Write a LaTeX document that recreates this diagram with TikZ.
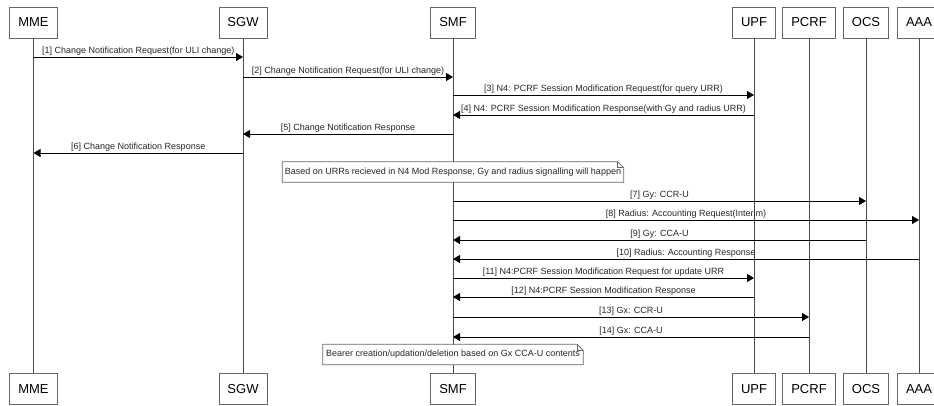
\documentclass[tikz,border=0pt]{standalone}
\usepackage{fontspec}
\setmainfont{Liberation Sans}
\usetikzlibrary{arrows.meta}
\begin{document}
\begin{tikzpicture}[x=1pt,y=-1pt,
  actor/.style={draw=black!60, line width=0.8pt, minimum height=31pt, inner xsep=8.5pt, inner ysep=0pt, font=\fontsize{13}{15}\selectfont, fill=white},
  life/.style={draw=black!70, line width=0.8pt},
  msg/.style={draw=black, line width=0.8pt, -{Triangle[length=7pt,width=8pt]}},
  lbl/.style={font=\fontsize{9}{10}\selectfont, text=black!85, inner sep=1pt, above},
  notebox/.style={fill=white, draw=none, minimum height=20pt, inner xsep=2pt, inner ysep=0pt, font=\fontsize{9}{10}\selectfont, text=black!85},
  noteline/.style={draw=black!60, line width=0.8pt}
]
\useasboundingbox (0,0) rectangle (934,406);

% actors
\foreach \n/\x in {MME/33.5,SGW/243,SMF/453,UPF/754,PCRF/809,OCS/866,AAA/919}{
  \node[actor] (t\n) at (\x,22.5) {\n};
  \node[actor] (b\n) at (\x,389) {\n};
  \draw[life] (t\n) -- (b\n);
}

% messages
\draw[msg] (tMME.center |- 0,57) -- (tSGW.center |- 0,57) node[lbl,midway] {[1] Change Notification Request(for ULI change)};
\draw[msg] (tSGW.center |- 0,77) -- (tSMF.center |- 0,77) node[lbl,midway] {[2] Change Notification Request(for ULI change)};
\draw[msg] (tSMF.center |- 0,95) -- (tUPF.center |- 0,95) node[lbl,midway] {[3] N4: PCRF Session Modification Request(for query URR)};
\draw[msg] (tUPF.center |- 0,115) -- (tSMF.center |- 0,115) node[lbl,midway] {[4] N4: PCRF Session Modification Response(with Gy and radius URR)};
\draw[msg] (tSMF.center |- 0,134) -- (tSGW.center |- 0,134) node[lbl,midway] {[5] Change Notification Response};
\draw[msg] (tSGW.center |- 0,153) -- (tMME.center |- 0,153) node[lbl,midway] {[6] Change Notification Response};

% note 1
\node[notebox, minimum width=341pt] (n1) at (453,172) {Based on URRs recieved in N4 Mod Response, Gy and radius signalling will happen};
\draw[noteline] (n1.south west) -- (n1.south east) -- ([yshift=-6pt]n1.north east) -- ([xshift=-6pt]n1.north east) -- (n1.north west) -- cycle;
\draw[noteline] ([xshift=-6pt]n1.north east) -- ([xshift=-6pt,yshift=-6pt]n1.north east) -- ([yshift=-6pt]n1.north east);

\draw[msg] (tSMF.center |- 0,201) -- (tOCS.center |- 0,201) node[lbl,midway] {[7] Gy: CCR-U};
\draw[msg] (tSMF.center |- 0,220) -- (tAAA.center |- 0,220) node[lbl,midway] {[8] Radius: Accounting Request(Interim)};
\draw[msg] (tOCS.center |- 0,240) -- (tSMF.center |- 0,240) node[lbl,midway] {[9] Gy: CCA-U};
\draw[msg] (tAAA.center |- 0,259) -- (tSMF.center |- 0,259) node[lbl,midway] {[10] Radius: Accounting Response};
\draw[msg] (tSMF.center |- 0,278) -- (tUPF.center |- 0,278) node[lbl,midway] {[11] N4:PCRF Session Modification Request for update URR};
\draw[msg] (tUPF.center |- 0,297) -- (tSMF.center |- 0,297) node[lbl,midway] {[12] N4:PCRF Session Modification Response};
\draw[msg] (tSMF.center |- 0,317) -- (tPCRF.center |- 0,317) node[lbl,midway] {[13] Gx: CCR-U};
\draw[msg] (tPCRF.center |- 0,337) -- (tSMF.center |- 0,337) node[lbl,midway] {[14] Gx: CCA-U};

% note 2
\node[notebox, minimum width=260pt] (n2) at (453,354.5) {Bearer creation/updation/deletion based on Gx CCA-U contents};
\draw[noteline] (n2.south west) -- (n2.south east) -- ([yshift=-6pt]n2.north east) -- ([xshift=-6pt]n2.north east) -- (n2.north west) -- cycle;
\draw[noteline] ([xshift=-6pt]n2.north east) -- ([xshift=-6pt,yshift=-6pt]n2.north east) -- ([yshift=-6pt]n2.north east);
\end{tikzpicture}
\end{document}
